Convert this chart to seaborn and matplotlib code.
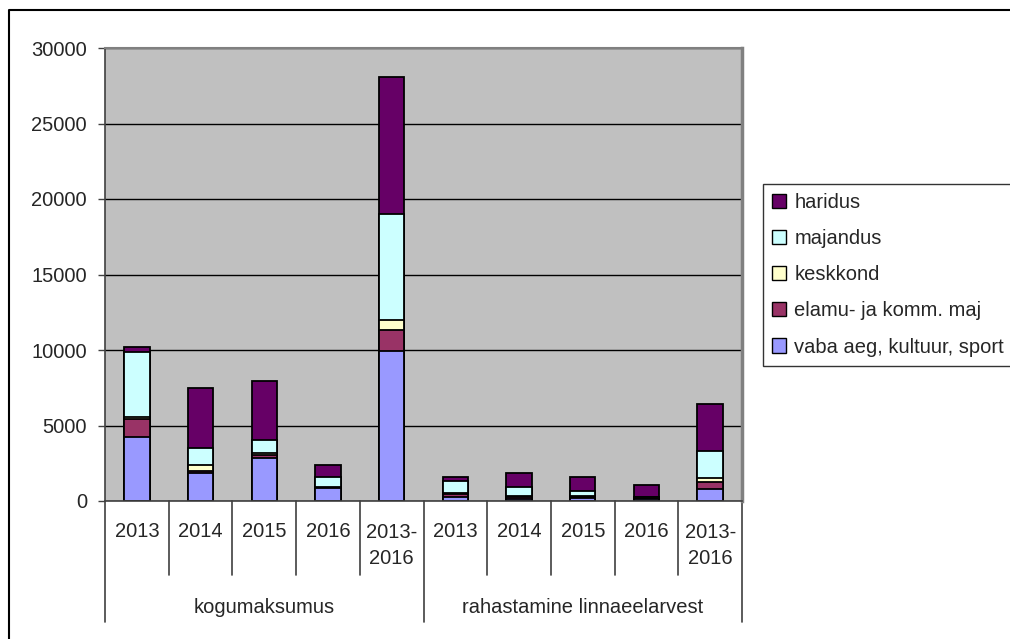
import matplotlib.pyplot as plt
import pandas as pd
import seaborn as sns
from matplotlib.lines import Line2D
from matplotlib.patches import Patch

# Data
groups = ["kogumaksumus", "rahastamine linnaeelarvest"]
periods = ["2013", "2014", "2015", "2016", "2013-\n2016"]

vaba = [4250, 1850, 2850, 860, 9950, 290, 150, 200, 120, 780]
elamu = [1150, 150, 200, 20, 1380, 195, 100, 80, 80, 500]
keskkond = [150, 370, 130, 20, 670, 40, 80, 50, 40, 220]
majandus = [4320, 1150, 845, 690, 7030, 805, 600, 330, 30, 1820]
haridus = [330, 3940, 3910, 800, 9070, 260, 930, 930, 810, 3100]

series = ["vaba aeg, kultuur, sport", "elamu- ja komm. maj", "keskkond", "majandus", "haridus"]
colors = ["#9999FF", "#993366", "#FFFFCC", "#CCFFFF", "#660066"]

# Build dataframe with cumulative heights (for stacked look)
keys = [f"{g}|{p}" for g in groups for p in periods]
df = pd.DataFrame(
    {"key": keys, series[0]: vaba, series[1]: elamu, series[2]: keskkond,
     series[3]: majandus, series[4]: haridus}
)
cum = df[series].cumsum(axis=1)

sns.set_style("white")
plt.rcParams["font.family"] = ["Liberation Sans", "DejaVu Sans"]
plt.rcParams["font.size"] = 14.5

fig = plt.figure(figsize=(10.1, 6.39), dpi=100)
ax = fig.add_axes([105 / 1010, 1 - 501 / 639, 637 / 1010, 453 / 639])
ax.set_facecolor("#C0C0C0")

# Draw tallest (cumulative) first so lower segments sit on top
for name, col in reversed(list(zip(series, colors))):
    sns.barplot(
        x=df["key"],
        y=cum[name],
        color=col,
        edgecolor="black",
        linewidth=1.3,
        width=0.4,
        ax=ax,
        saturation=1,
    )

ax.set_ylim(0, 30000)
ax.set_xlim(-0.5, 9.5)
ax.set_yticks(range(0, 30001, 5000))
ax.yaxis.grid(True, color="black", linewidth=1)
ax.set_axisbelow(True)
ax.set_xlabel("")
ax.set_ylabel("")
ax.set_xticks([])
ax.tick_params(axis="y", direction="out", length=5, width=1, color="#404040",
               pad=8, labelsize=14.5, left=True)

for side in ["left", "bottom"]:
    ax.spines[side].set_color("#404040")
    ax.spines[side].set_linewidth(1.2)
ax.spines["top"].set_color("#808080")
ax.spines["top"].set_linewidth(1.5)
ax.spines["right"].set_color("#808080")
ax.spines["right"].set_linewidth(2.5)

# Multi-level category axis
trans = ax.get_xaxis_transform()
for i in range(len(keys)):
    lab = periods[i % len(periods)]
    ypos = -0.068 if "\n" not in lab else -0.099
    ax.text(i, ypos, lab, transform=trans, ha="center", va="center",
            fontsize=14.5, linespacing=1.45)
for b in range(len(keys) + 1):
    edge = b in (0, len(periods), len(keys))
    ax.plot([b - 0.5, b - 0.5], [0, -0.2665 if edge else -0.163],
            transform=trans, color="#404040", lw=1.2, clip_on=False)
for gi, g in enumerate(groups):
    center = gi * len(periods) + (len(periods) - 1) / 2
    ax.text(center, -0.234, g, transform=trans, ha="center", va="center",
            fontsize=14.5)

# Legend
handles = [Patch(facecolor=c, edgecolor="black", linewidth=1)
           for c in reversed(colors)]
leg = fig.legend(
    handles, list(reversed(series)),
    loc="upper left", bbox_to_anchor=(763 / 1010, 1 - 184 / 639),
    bbox_transform=fig.transFigure, frameon=True, fancybox=False,
    edgecolor="black", borderaxespad=0, handlelength=0.7, handleheight=0.7,
    handletextpad=0.4, labelspacing=0.85, borderpad=0.45, fontsize=14.5,
)
leg.get_frame().set_linewidth(1)

# Outer chart border (left and top edges visible)
fig.add_artist(Line2D([9 / 1010, 9 / 1010, 1], [0, 1 - 10 / 639, 1 - 10 / 639],
                      transform=fig.transFigure, color="black", lw=1.5))

plt.savefig("out.png", dpi=100)
